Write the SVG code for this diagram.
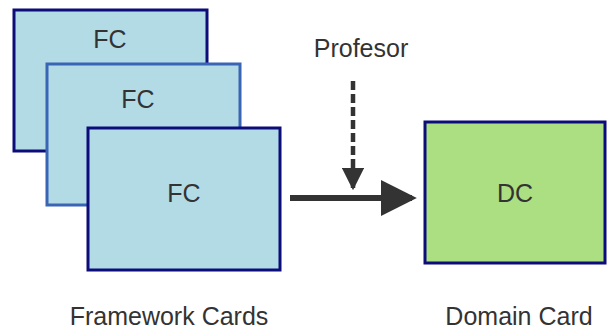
<svg xmlns="http://www.w3.org/2000/svg" width="607" height="331" viewBox="0 0 607 331">
<style>
.card{fill:#b3dbe6;stroke:#0c0c7a;stroke-width:3}
.card2{fill:#b3dbe6;stroke:#3a64b4;stroke-width:3}
.dc{fill:#abdf82;stroke:#0c0c7a;stroke-width:3}
text{font-family:"Liberation Sans",Arial,sans-serif;font-size:25px;fill:#333;text-anchor:middle}
</style>
<defs>
<marker id="ah" markerWidth="6" markerHeight="6" refX="5.2" refY="3" orient="auto" markerUnits="strokeWidth"><path d="M0,0 L6,3 L0,6 z" fill="#333"/></marker>
<marker id="ahd" markerWidth="5" markerHeight="5" refX="4.5" refY="2.5" orient="auto" markerUnits="strokeWidth"><path d="M0,0 L5,2.5 L0,5 z" fill="#333"/></marker>
</defs>
<rect width="607" height="331" fill="#fff"/>
<g id="fc1"><rect class="card" x="14" y="10" width="193" height="141"/><text x="110" y="48">FC</text></g>
<g id="fc2"><rect class="card2" x="47" y="64" width="193" height="141"/><text x="138" y="108">FC</text></g>
<g id="fc3"><rect class="card" x="88" y="128" width="192" height="142"/><text x="184" y="202">FC</text></g>
<g id="dc"><rect class="dc" x="425" y="122" width="180" height="141"/><text x="515" y="202">DC</text></g>
<g id="labels">
<text x="361" y="57">Profesor</text>
<text x="169" y="325">Framework Cards</text>
<text x="519" y="325">Domain Card</text>
</g>
<g id="connectors">
<line x1="290" y1="198" x2="412" y2="198" stroke="#333" stroke-width="6" marker-end="url(#ah)"/>
<line x1="353" y1="81" x2="353" y2="188" stroke="#333" stroke-width="4.5" stroke-dasharray="9,4" marker-end="url(#ahd)"/>
</g>
</svg>
